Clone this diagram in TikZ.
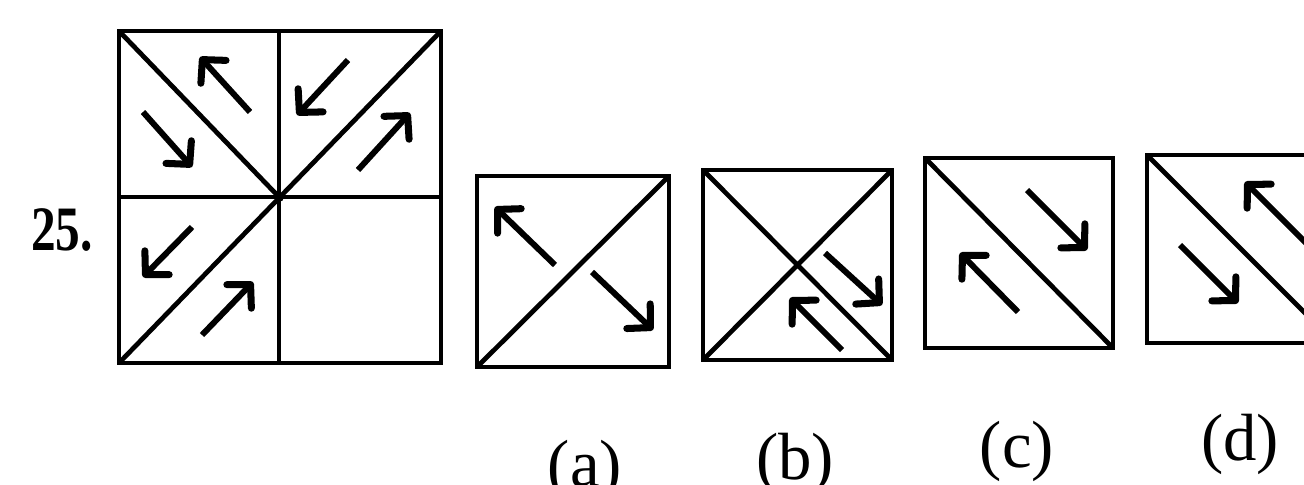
\documentclass[tikz,border=0pt]{standalone}
\usepackage{fontspec}
\setmainfont{Liberation Serif}
\usetikzlibrary{arrows.meta}
\begin{document}
\begin{tikzpicture}[x=0.02cm, y=-0.02cm,
    frame/.style={line width=2.7pt, line join=miter},
    arr/.style={-{Straight Barb[length=3.3mm, width=6.8mm, line width=4pt 0, round]}, line width=3.4pt},
    num/.style={font=\fontsize{36}{40}\selectfont\bfseries, xscale=0.78},
    opt/.style={font=\fontsize{38}{42}\selectfont}
]
\useasboundingbox (0,0) rectangle (1304,484);
\clip (0,0) rectangle (1304,484);

% question figure
\node[num] (qnum) at (62,230) {25.};
\draw[frame] (119,31) rectangle (441,363);
\draw[frame] (279,31) -- (279,363) (119,197) -- (441,197);
\draw[frame] (119,31) -- (279,197);
\draw[frame] (441,31) -- (119,363);
\fill (279,197) circle (5);
\draw[arr] (250,112) -- (200,57);
\draw[arr] (143,112) -- (192,167);
\draw[arr] (348,60) -- (297,115);
\draw[arr] (358,170) -- (410,113);
\draw[arr] (192,227) -- (143,277);
\draw[arr] (202,335) -- (253,282);

% option (a)
\draw[frame] (477,176) rectangle (669,367);
\draw[frame] (477,367) -- (669,176);
\draw[arr] (555,265) -- (495,207);
\draw[arr] (592,272) -- (653,330);
\node[opt] (opta) at (585,470) {(a)};

% option (b)
\draw[frame] (703,170) rectangle (892,360);
\draw[frame] (703,170) -- (892,360) (703,360) -- (892,170);
\draw[arr] (825,253) -- (882,305);
\draw[arr] (842,350) -- (790,298);
\node[opt] (optb) at (795,463) {(b)};

% option (c)
\draw[frame] (925,158) rectangle (1113,348);
\draw[frame] (925,158) -- (1113,348);
\draw[arr] (1027,190) -- (1087,250);
\draw[arr] (1018,312) -- (960,253);
\node[opt] (optc) at (1017,451) {(c)};

% option (d)
\draw[frame] (1147,155) rectangle (1335,343);
\draw[frame] (1147,155) -- (1335,343);
\draw[arr] (1180,245) -- (1238,303);
\draw[arr] (1310,247) -- (1245,182);
\node[opt] (optd) at (1240,444) {(d)};
\end{tikzpicture}
\end{document}
